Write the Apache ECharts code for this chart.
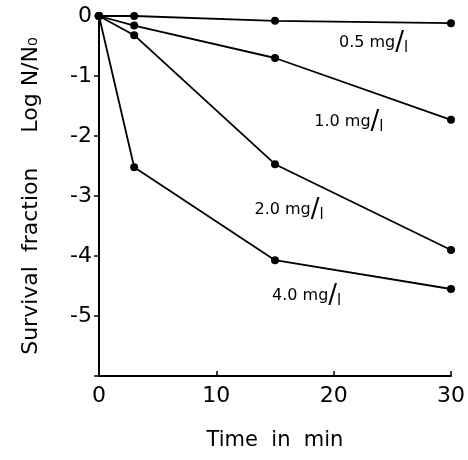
<!DOCTYPE html>
<html>
<head>
<meta charset="utf-8">
<script src="https://cdn.jsdelivr.net/npm/echarts@6/dist/echarts.min.js"></script>
<style>
  html, body { margin: 0; padding: 0; background: #fff; }
  #chart { width: 468px; height: 460px; }
</style>
</head>
<body>
<div id="chart"></div>
<script>
// time points (min)
const times = [0, 3, 15, 30]
// log N/N0 for each dose
const dose05 = [0, 0, -0.08, -0.12]
const dose10 = [0, -0.16, -0.7, -1.73]
const dose20 = [0, -0.32, -2.47, -3.9]
const dose40 = [0, -2.52, -4.07, -4.55]
const doseNames = ['0.5', '1.0', '2.0', '4.0']
// where each dose label sits, in data units [time, log]
const labelAt = [[23.4, -0.45], [21.3, -1.77], [16.2, -3.23], [17.7, -4.67]]

const font = 'DejaVu Sans'
const chart = echarts.init(document.getElementById('chart'))

function makeSeries (vals, i) {
  return {
    name: doseNames[i],
    type: 'line',
    data: times.map((t, k) => [t, vals[k]]),
    symbol: 'circle',
    symbolSize: 8,
    itemStyle: { color: '#000' },
    lineStyle: { color: '#000', width: 1.8 },
    z: 3,
    markPoint: {
      symbol: 'circle',
      symbolSize: 1,
      itemStyle: { color: 'rgba(0,0,0,0)' },
      data: [{ coord: labelAt[i] }],
      label: {
        show: true,
        position: 'inside',
        formatter: '{n|' + doseNames[i] + ' mg}{s|/}{l|l}',
        rich: {
          n: { fontFamily: font, fontSize: 16, color: '#000' },
          s: { fontFamily: font, fontSize: 26, color: '#000' },
          l: { fontFamily: font, fontSize: 15, color: '#000', padding: [10, 0, 0, 0] }
        }
      }
    }
  }
}

chart.setOption({
  backgroundColor: '#fff',
  animation: false,
  grid: { left: 99, right: 12, top: 16, bottom: 84 },
  xAxis: {
    type: 'value',
    min: 0,
    max: 30,
    interval: 10,
    name: 'Time  in  min',
    nameLocation: 'middle',
    nameGap: 54,
    nameTextStyle: { fontFamily: font, fontSize: 21, color: '#000' },
    axisLine: { onZero: false, lineStyle: { color: '#000', width: 2 } },
    axisTick: { inside: true, length: 5, lineStyle: { color: '#000', width: 1.5 } },
    axisLabel: { fontFamily: font, fontSize: 22, color: '#000', margin: 9 },
    splitLine: { show: false }
  },
  yAxis: {
    type: 'value',
    min: -6,
    max: 0,
    interval: 1,
    name: 'Survival  fraction     Log N/N\u2080',
    nameLocation: 'middle',
    nameRotate: 90,
    nameGap: 57,
    nameTextStyle: { fontFamily: font, fontSize: 22, color: '#000' },
    axisLine: { onZero: false, lineStyle: { color: '#000', width: 2 } },
    axisTick: { length: 5, lineStyle: { color: '#000', width: 1.5 } },
    axisLabel: {
      fontFamily: font,
      fontSize: 22,
      color: '#000',
      margin: 7,
      formatter: v => (v === -6 ? '' : String(v))
    },
    splitLine: { show: false }
  },
  series: [dose05, dose10, dose20, dose40].map(makeSeries)
})
</script>
</body>
</html>
